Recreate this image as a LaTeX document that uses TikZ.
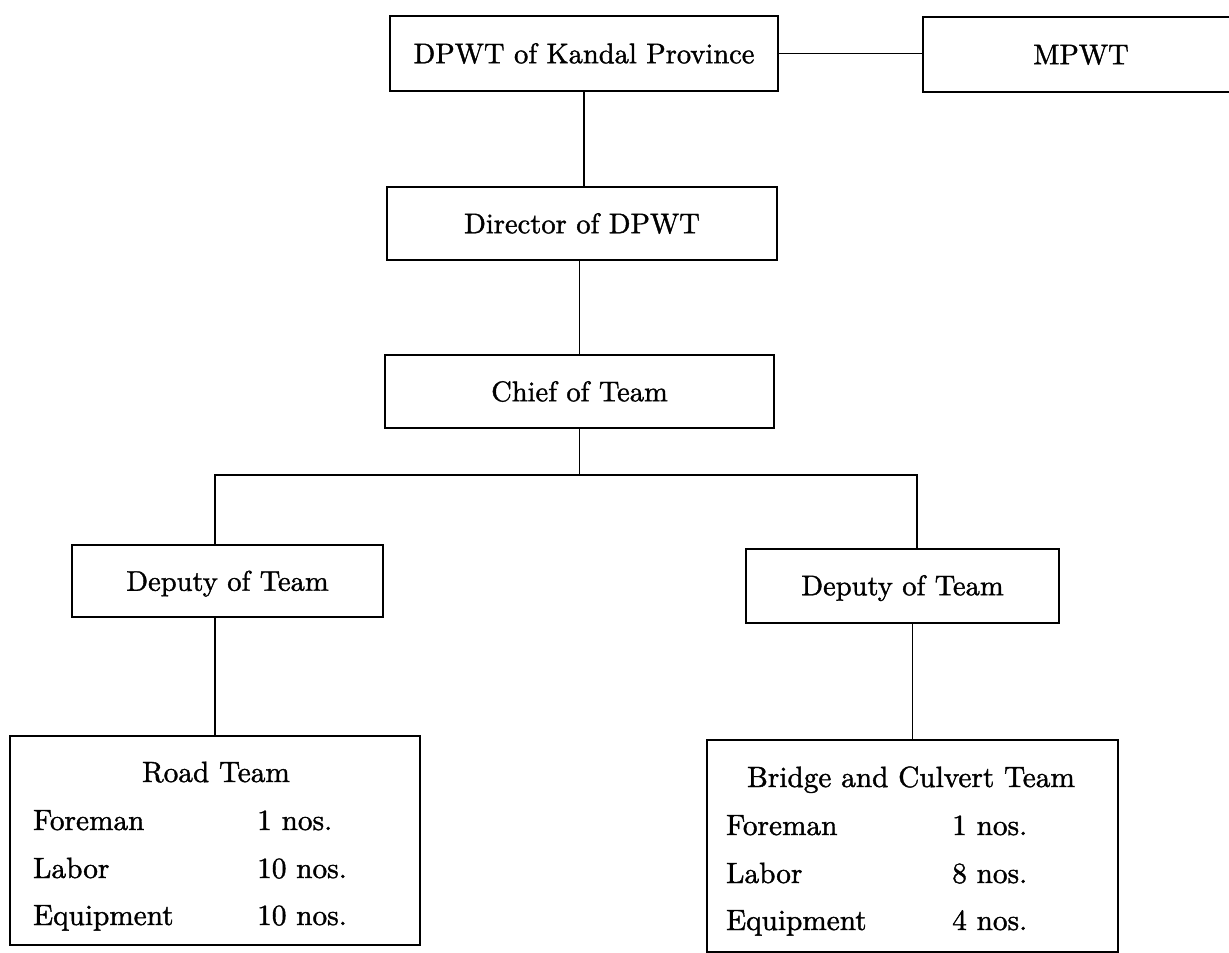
\documentclass[tikz,border=0pt]{standalone}
\font\boxfont="[lmroman10-regular.otf]:embolden=1.3" at 28.5pt
\font\rowfont="[lmroman10-regular.otf]:embolden=1.3" at 29.3pt
\begin{document}
\begin{tikzpicture}[x=1pt,y=-1pt,
  orgbox/.style={draw, line width=2pt, inner sep=0pt, text height=19.5pt, text depth=0pt,
    font=\boxfont},
  teambox/.style={draw, line width=2pt, inner sep=0pt},
  conn/.style={line width=1.8pt},
  ttl/.style={anchor=base, inner sep=0pt, font=\rowfont},
  row/.style={anchor=base west, inner sep=0pt, font=\rowfont}]
\useasboundingbox (0,0) rectangle (1229,953);
% top level
\node[orgbox, minimum width=388pt, minimum height=75pt] (dpwt) at (584,53.5) {DPWT of Kandal Province};
\node[orgbox, minimum width=316pt, minimum height=75pt] (mpwt) at (1081,54.5) {MPWT};
\node[orgbox, minimum width=390pt, minimum height=73pt] (director) at (582,223.5) {Director of DPWT};
\node[orgbox, minimum width=389pt, minimum height=73pt] (chief) at (579.5,391.5) {Chief of Team};
\node[orgbox, minimum width=311pt, minimum height=72pt] (dl) at (227.5,581) {Deputy of Team};
\node[orgbox, minimum width=313pt, minimum height=74pt] (dr) at (902.5,585.5) {Deputy of Team};
% team boxes
\node[teambox, minimum width=410pt, minimum height=209pt] (road) at (215,840.5) {};
\node[teambox, minimum width=411pt, minimum height=212pt] (bridge) at (912.5,846) {};
% road team text
\node[ttl] (rt) at (216,782) {Road Team};
\node[row] (rf) at (33,830) {Foreman};
\node[row] (rfn) at (257,830) {1 nos.};
\node[row] (rl) at (33,878) {Labor};
\node[row] (rln) at (257,878) {10 nos.};
\node[row] (re) at (33,925) {Equipment};
\node[row] (ren) at (257,925) {10 nos.};
% bridge team text
\node[ttl] (bt) at (911,787) {Bridge and Culvert Team};
\node[row] (bf) at (726,835) {Foreman};
\node[row] (bfn) at (952,835) {1 nos.};
\node[row] (bl) at (726,883) {Labor};
\node[row] (bln) at (952,883) {8 nos.};
\node[row] (be) at (726,930) {Equipment};
\node[row] (ben) at (952,930) {4 nos.};
% connectors
\coordinate (hl) at (215,475);
\coordinate (hr) at (917,475);
\draw[conn] (dpwt.east) -- (mpwt.west |- dpwt.east);
\draw[conn] (dpwt.south) -- (dpwt.south |- director.north);
\draw[conn] (chief.north |- director.south) -- (chief.north);
\draw[conn] (chief.south) -- (chief.south |- hl);
\draw[conn] (dl.north -| hl) -- (hl) -- (hr) -- (dr.north -| hr);
\draw[conn] (road.north |- dl.south) -- (road.north);
\draw[conn] (bridge.north |- dr.south) -- (bridge.north);
\end{tikzpicture}
\end{document}
